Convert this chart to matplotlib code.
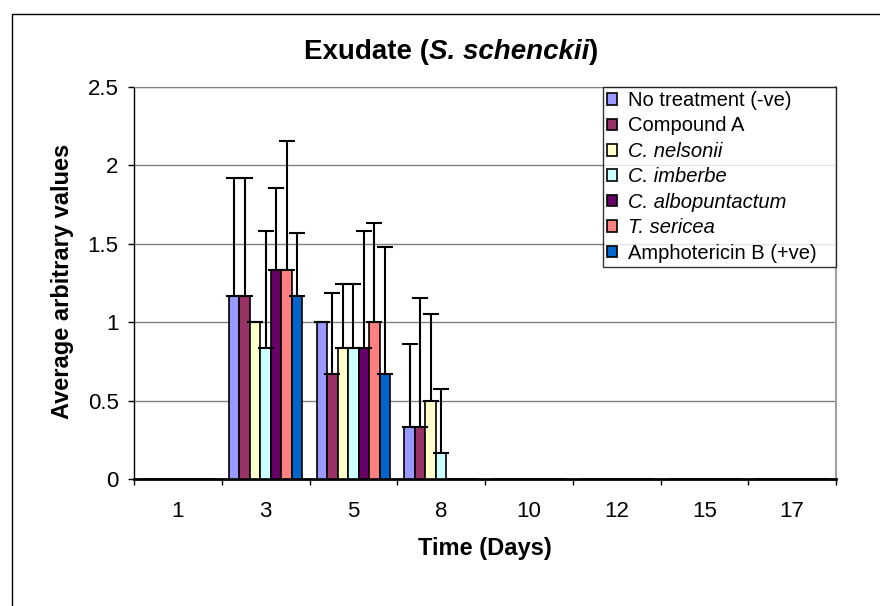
import numpy as np
import matplotlib
matplotlib.use('Agg')
import matplotlib.pyplot as plt
from matplotlib.patches import Rectangle

plt.rcParams['font.family'] = ['Liberation Sans', 'DejaVu Sans']

days = ['1', '3', '5', '8', '10', '12', '15', '17']
treatments = ['No treatment (-ve)', 'Compound A', 'C. nelsonii', 'C. imberbe',
              'C. albopuntactum', 'T. sericea', 'Amphotericin B (+ve)']
italic_names = ['C. nelsonii', 'C. imberbe', 'C. albopuntactum', 'T. sericea']
colours = ['#9999FF', '#993366', '#FFFFCC', '#CCFFFF', '#660066', '#FF8080', '#0066CC']

# mean values per treatment, one entry per day
means = [
    [0, 1.1667, 1.0, 0.3333, 0, 0, 0, 0],
    [0, 1.1667, 0.6667, 0.3333, 0, 0, 0, 0],
    [0, 1.0, 0.8333, 0.5, 0, 0, 0, 0],
    [0, 0.8333, 0.8333, 0.1667, 0, 0, 0, 0],
    [0, 1.3333, 0.8333, 0, 0, 0, 0, 0],
    [0, 1.3333, 1.0, 0, 0, 0, 0, 0],
    [0, 1.1667, 0.6667, 0, 0, 0, 0, 0],
]
# upper error (plus only)
errors = [
    [0, 0.75, 0, 0.53, 0, 0, 0, 0],
    [0, 0.75, 0.52, 0.82, 0, 0, 0, 0],
    [0, 0, 0.41, 0.55, 0, 0, 0, 0],
    [0, 0.75, 0.41, 0.41, 0, 0, 0, 0],
    [0, 0.52, 0.75, 0, 0, 0, 0, 0],
    [0, 0.82, 0.63, 0, 0, 0, 0, 0],
    [0, 0.40, 0.81, 0, 0, 0, 0, 0],
]

W, H = 880, 606
fig = plt.figure(figsize=(W / 100, H / 100), dpi=100)
ax = fig.add_axes([134 / W, 1 - 479 / H, (836 - 134) / W, (479 - 87) / H])

x = np.arange(len(days))
n = len(treatments)
bw = 1.0 / (n + 1.36)
for i in range(n):
    pos = x - n * bw / 2 + bw * (i + 0.5)
    m = np.array(means[i])
    e = np.array(errors[i])
    ax.bar(pos, m, width=bw, color=colours[i], edgecolor='black', linewidth=1.2,
           label=treatments[i], zorder=3)
    has = m > 0
    ax.errorbar(pos[has], m[has], yerr=[np.zeros(has.sum()), e[has]], fmt='none',
                ecolor='black', elinewidth=1.5, capsize=5.5, capthick=1.5, zorder=4)

ax.set_xlim(-0.5, len(days) - 0.5)
ax.set_ylim(0, 2.5)
ax.set_yticks([0, 0.5, 1, 1.5, 2, 2.5])
ax.set_yticklabels(['0', '0.5', '1', '1.5', '2', '2.5'])
ax.yaxis.grid(True, color='#808080', linewidth=1, zorder=0)
ax.set_axisbelow(True)

ax.set_xticks(np.arange(-0.5, len(days), 1.0))
ax.set_xticklabels([])
ax.set_xticks(x, minor=True)
ax.set_xticklabels(days, minor=True, fontsize=16)
ax.tick_params(axis='x', which='minor', length=0, pad=16)
ax.tick_params(axis='x', which='major', length=4.5, width=1, direction='out')
ax.tick_params(axis='y', length=4.5, width=1, direction='out', labelsize=16, pad=6.5)

ax.spines['bottom'].set_linewidth(2)
ax.spines['left'].set_linewidth(1)
ax.spines['top'].set_color('#808080')
ax.spines['right'].set_color('#a0a0a0')
ax.spines['right'].set_linewidth(1.5)

fig.text(485 / W, 1 - 548 / H, 'Time (Days)', ha='center', va='center',
         fontsize=17, fontweight='bold')
fig.text(62 / W, 1 - 281 / H, 'Average arbitrary values', ha='center', va='center',
         rotation=90, fontsize=17, fontweight='bold')

# title in three pieces so the species name can be italic
renderer = fig.canvas.get_renderer()
pieces = [('Exudate (', 'normal'), ('S. schenckii', 'italic'), (')', 'normal')]
texts = []
for s, style in pieces:
    t = fig.text(0, 1 - 52 / H, s, ha='left', va='center', fontsize=20,
                 fontweight='bold', fontstyle=style)
    texts.append(t)
widths = [t.get_window_extent(renderer).width for t in texts]
xpos = 451 - sum(widths) / 2
for t, w in zip(texts, widths):
    t.set_x(xpos / W)
    xpos += w

leg = ax.legend(loc='upper left', bbox_to_anchor=((603 - 134) / 702, 0, 233 / 702, 1.0),
                mode='expand', borderaxespad=0, fontsize=14.5, frameon=True,
                fancybox=False, handlelength=0.5, handleheight=0.5,
                handletextpad=0.55, labelspacing=0.32, borderpad=0.2)
leg.get_frame().set_edgecolor('black')
leg.get_frame().set_linewidth(1)
for t in leg.get_texts():
    if t.get_text() in italic_names:
        t.set_fontstyle('italic')

fig.add_artist(Rectangle((12 / W, -0.1), 1.2, 1 - 14 / H + 0.1, transform=fig.transFigure,
                         fill=False, edgecolor='black', linewidth=1))

fig.savefig('out.png', dpi=100)
